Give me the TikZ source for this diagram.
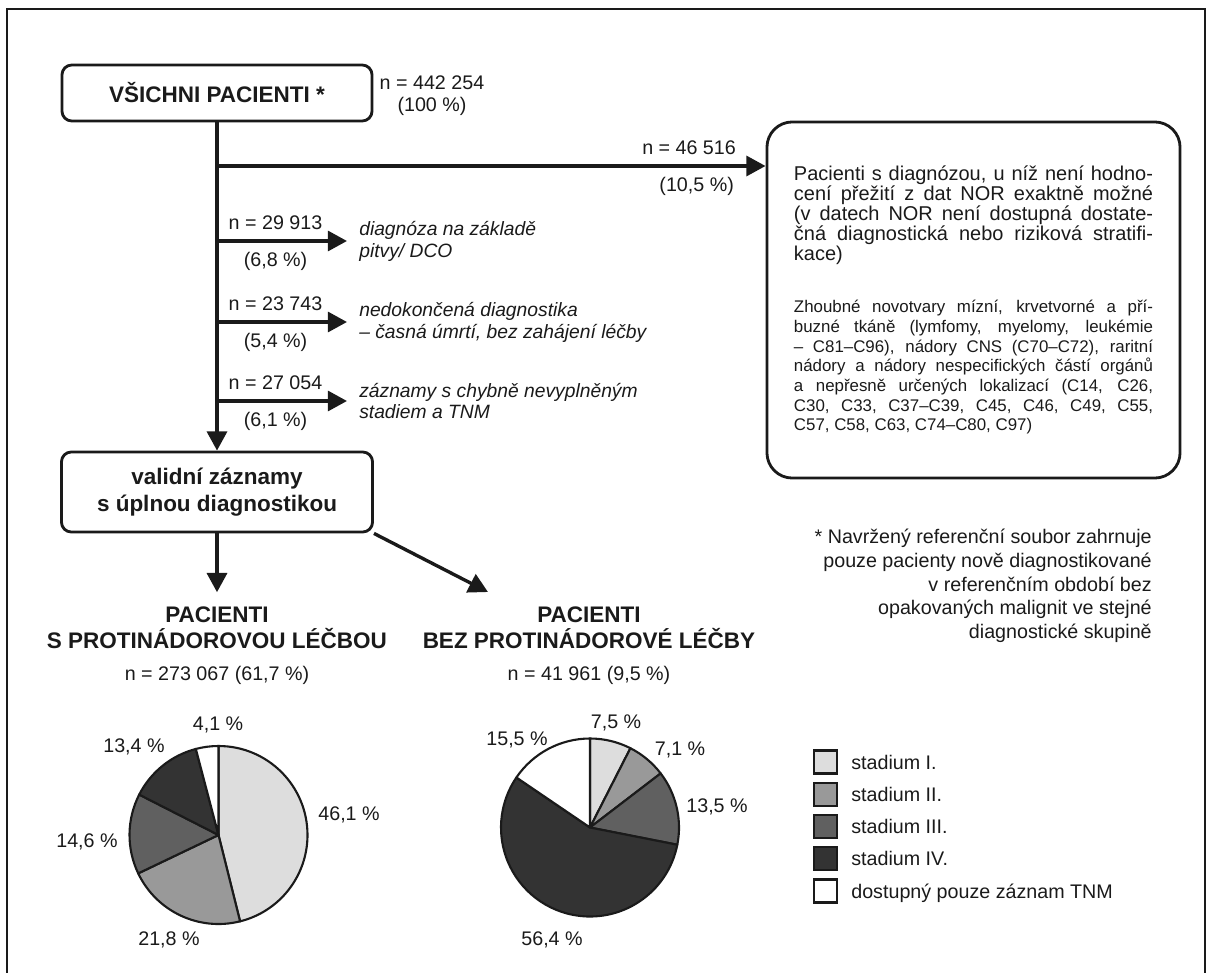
\documentclass[tikz,border=0pt]{standalone}
\usepackage{fontspec}
\setmainfont{Liberation Sans}
\usetikzlibrary{arrows.meta,positioning}
\definecolor{stageOne}{RGB}{221,221,221}
\definecolor{stageTwo}{RGB}{153,153,153}
\definecolor{stageThree}{RGB}{96,96,96}
\definecolor{stageFour}{RGB}{51,51,51}
\definecolor{inkGrey}{RGB}{26,26,26}
\newcommand{\jline}[1]{\hbox to\hsize{#1}}
\tikzset{
  flowbox/.style={
    rectangle, rounded corners=7pt, draw=inkGrey, line width=2pt,
    align=center, inner sep=0pt, text=inkGrey,
    font=\bfseries\fontsize{16}{19}\selectfont},
  notebox/.style={
    rectangle, rounded corners=18pt, draw=inkGrey, line width=2pt,
    inner sep=0pt, text=inkGrey, minimum width=10.325cm, minimum height=8.9cm},
  counttext/.style={font=\fontsize{14}{15.6}\selectfont, align=center,
    inner sep=0pt, text=inkGrey},
  branchlabel/.style={font=\fontsize{14}{15.6}\selectfont, inner xsep=0pt,
    inner ysep=6.5pt, text=inkGrey},
  desctext/.style={font=\itshape\fontsize{13.7}{15.6}\selectfont, align=left,
    inner sep=0pt, text=inkGrey},
  headtext/.style={font=\bfseries\fontsize{16}{17.8}\selectfont, align=center,
    inner sep=0pt, text=inkGrey},
  pielabel/.style={font=\fontsize{14}{16}\selectfont, anchor=base,
    inner sep=0pt, text=inkGrey},
  pieline/.style={draw=inkGrey, line width=1.5pt, line join=round},
  legbox/.style={rectangle, draw=inkGrey, line width=1.5pt,
    minimum size=0.575cm, inner sep=0pt},
  arrowline/.style={-{Triangle[length=0.48cm, width=0.5cm]}, line width=2.4pt,
    draw=inkGrey}
}

\begin{document}
\begin{tikzpicture}[x=0.025cm, y=-0.025cm, node distance=0.3cm]
  \useasboundingbox (0,0) rectangle (1208,972);
  % frame
  \draw[line width=2pt, draw=inkGrey] (7,990) -- (7,9) -- (1205,9) -- (1205,990);

  % boxes
  \node[flowbox, minimum width=7.75cm, minimum height=1.4cm] (allpat) at (217,93)
    {VŠICHNI PACIENTI *};
  \node[counttext, right=0.15cm of allpat, yshift=-2pt] (allpatn)
    {n = 442 254\\(100 \%)};
  \node[flowbox, minimum width=7.775cm, minimum height=2cm] (valid) at (217,492)
    {validní záznamy\\s úplnou diagnostikou};
  \node[notebox] (excl) at (973.5,300) {\parbox{8.975cm}{%
    \fontsize{14.2}{14.2}\selectfont
    \jline{Pacienti s diagnózou, u níž není hodno-}
    \jline{cení přežití z dat NOR exaktně možné}
    \jline{(v datech NOR není dostupná dostate-}
    \jline{čná diagnostická nebo riziková stratifi-}
    \hbox{kace)}
    \fontsize{12}{14}\selectfont\vskip 23.5pt
    \jline{Zhoubné novotvary mízní, krvetvorné a pří-}
    \jline{buzné tkáně (lymfomy, myelomy, leukémie}
    \jline{– C81–C96), nádory CNS (C70–C72), raritní}
    \jline{nádory a nádory nespecifických částí orgánů}
    \jline{a nepřesně určených lokalizací (C14, C26,}
    \jline{C30, C33, C37–C39, C45, C46, C49, C55,}
    \hbox{C57, C58, C63, C74–C80, C97)}}};

  \draw[arrowline] (allpat) -- (valid);

  % excluded records
  \coordinate (br0) at (217,166);
  \draw[arrowline] (br0) -- (br0 -| excl.west)
    node[branchlabel, pos=1, anchor=south east, xshift=-0.7cm] (exln) {n = 46 516}
    node[branchlabel, pos=1, anchor=north east, xshift=-0.75cm] (exlp) {(10,5 \%)};

  \coordinate (br1) at (217,241);
  \coordinate (tip1) at (347,241);
  \draw[arrowline] (br1) -- (tip1)
    node[branchlabel, pos=0.45, above] (dcon) {n = 29 913}
    node[branchlabel, pos=0.45, below] (dcop) {(6,8 \%)};
  \node[desctext, right=0.3cm of tip1] (dco) {diagnóza na základě\\pitvy/ DCO};

  \coordinate (br2) at (217,322);
  \coordinate (tip2) at (347,322);
  \draw[arrowline] (br2) -- (tip2)
    node[branchlabel, pos=0.45, above] (incn) {n = 23 743}
    node[branchlabel, pos=0.45, below] (incp) {(5,4 \%)};
  \node[desctext, right=0.3cm of tip2] (inc)
    {nedokončená diagnostika\\– časná úmrtí, bez zahájení léčby};

  \coordinate (br3) at (217,401);
  \coordinate (tip3) at (347,401);
  \draw[arrowline] (br3) -- (tip3)
    node[branchlabel, pos=0.45, above] (errn) {n = 27 054}
    node[branchlabel, pos=0.45, below] (errp) {(6,1 \%)};
  \node[desctext, right=0.3cm of tip3] (err)
    {záznamy s chybně nevyplněným\\stadiem a TNM};

  % treatment groups
  \node[headtext, anchor=north] (treat) at (217,607)
    {PACIENTI\\S PROTINÁDOROVOU LÉČBOU};
  \node[counttext, below=0.44cm of treat] (treatn) {n = 273 067 (61,7 \%)};
  \node[headtext, anchor=north] (notreat) at (589,607)
    {PACIENTI\\BEZ PROTINÁDOROVÉ LÉČBY};
  \node[counttext, below=0.44cm of notreat] (notreatn) {n = 41 961 (9,5 \%)};
  \coordinate (notreattip) at (488,592);

  \draw[arrowline, shorten >=0.37cm] (valid) -- (treat);
  \draw[arrowline] (valid.south east) -- (notreattip);

  % pies
  \coordinate (treatpie) at (218.5,835);
  \coordinate (notreatpie) at (590,827.5);
  \foreach \from/\to/\shade in {-90/75.96/stageOne, 75.96/154.44/stageTwo,
      154.44/207/stageThree, 207/255.24/stageFour, 255.24/270/white}
    \filldraw[pieline, fill=\shade] (treatpie) -- ++(\from:89)
      arc[start angle=\from, end angle=\to, radius=89] -- cycle;
  \foreach \from/\to/\shade in {-90/-63/stageOne, -63/-37.44/stageTwo,
      -37.44/11.16/stageThree, 11.16/214.2/stageFour, 214.2/270/white}
    \filldraw[pieline, fill=\shade] (notreatpie) -- ++(\from:89)
      arc[start angle=\from, end angle=\to, radius=89] -- cycle;

  \node[pielabel] (tI) at (349,820) {46,1 \%};
  \node[pielabel] (tII) at (169,945) {21,8 \%};
  \node[pielabel] (tIII) at (87,847) {14,6 \%};
  \node[pielabel] (tIV) at (134,752) {13,4 \%};
  \node[pielabel] (tTNM) at (218,730) {4,1 \%};
  \node[pielabel] (nI) at (616,728) {7,5 \%};
  \node[pielabel] (nII) at (680,755) {7,1 \%};
  \node[pielabel] (nIII) at (717,812) {13,5 \%};
  \node[pielabel] (nIV) at (552,945) {56,4 \%};
  \node[pielabel] (nTNM) at (517,745) {15,5 \%};

  % footnote
  \node[counttext, align=right, anchor=north east,
    font=\fontsize{14}{16.8}\selectfont] (footnote) at (1152,529)
    {* Navržený referenční soubor zahrnuje\\pouze pacienty nově diagnostikované\\
     v referenčním období bez\\opakovaných malignit ve stejné\\diagnostické skupině};

  % legend
  \foreach \shade/\legname [count=\i] in {stageOne/stadium I., stageTwo/stadium II.,
      stageThree/stadium III., stageFour/stadium IV., white/dostupný pouze záznam TNM} {
    \node[legbox, fill=\shade] (leg\i) at (825.5,{729.75+32.25*\i}) {};
    \node[pielabel, anchor=base west] (legtext\i) at ([shift={(13,7)}]leg\i.east)
      {\legname};
  }
\end{tikzpicture}
\end{document}
